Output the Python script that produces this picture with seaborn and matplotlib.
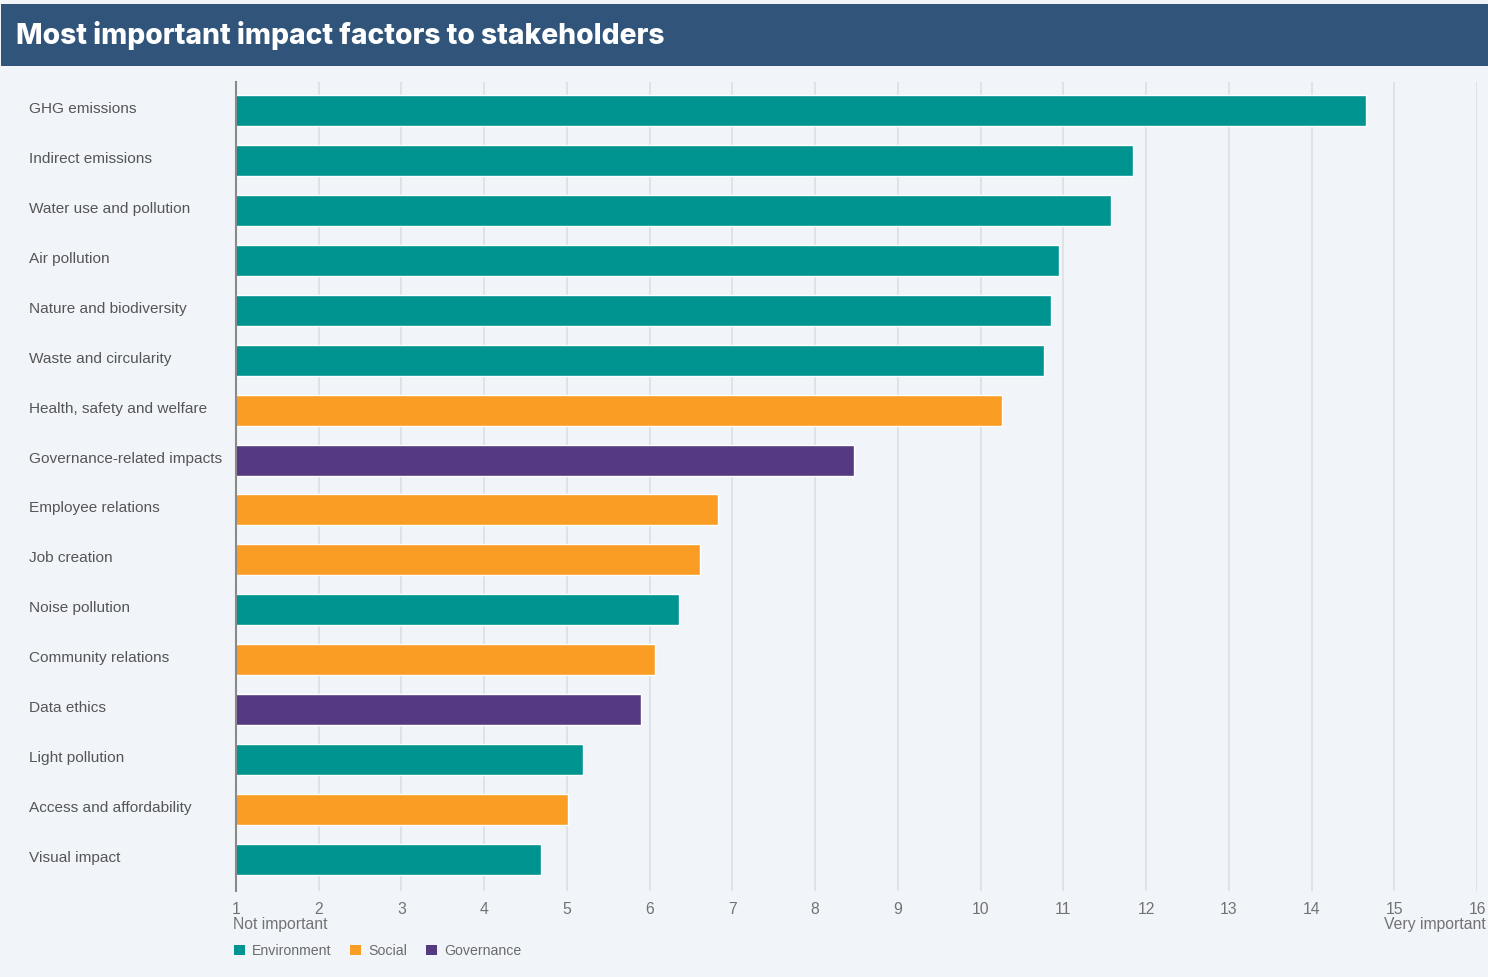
import matplotlib
matplotlib.use("Agg")
import matplotlib.pyplot as plt
from matplotlib.patches import Rectangle, Patch
from matplotlib.transforms import ScaledTranslation
import seaborn as sns
import pandas as pd

factors = ["GHG emissions", "Indirect emissions", "Water use and pollution", "Air pollution",
           "Nature and biodiversity", "Waste and circularity", "Health, safety and welfare",
           "Governance-related impacts", "Employee relations", "Job creation", "Noise pollution",
           "Community relations", "Data ethics", "Light pollution", "Access and affordability",
           "Visual impact"]
scores = [14.66, 11.84, 11.58, 10.95, 10.85, 10.77, 10.26, 8.47, 6.82, 6.61, 6.36, 6.06,
          5.89, 5.20, 5.01, 4.69]
groups = ["Environment", "Environment", "Environment", "Environment", "Environment",
          "Environment", "Social", "Governance", "Social", "Social", "Environment", "Social",
          "Governance", "Environment", "Social", "Environment"]
group_order = ["Environment", "Social", "Governance"]
group_colors = ["#009490", "#f99d25", "#553a81"]
xticks = list(range(1, 17))
title = "Most important impact factors to stakeholders"

BG = "#f1f5fa"
sns.set_theme(style="white")
plt.rcParams["font.family"] = ["Liberation Sans", "DejaVu Sans"]

df = pd.DataFrame({"factor": factors, "score": scores, "group": groups})

fig = plt.figure(figsize=(14.88, 9.77), dpi=100, facecolor=BG)
ax = fig.add_axes([236 / 1488, 1 - 891 / 977, (1477 - 236) / 1488, (891 - 82) / 977])
ax.set_facecolor(BG)

sns.barplot(data=df, x="score", y="factor", hue="group", hue_order=group_order,
            palette=dict(zip(group_order, group_colors)), dodge=False, width=0.62,
            order=factors, orient="h", saturation=1, ax=ax, legend=False, zorder=3)

ax.set_xlim(1, 16)
ax.set_ylim(15.64, -0.58)
ax.set_xticks(xticks)
ax.set_xticklabels([str(t) for t in xticks])
ax.grid(axis="x", color="#dadde2", linewidth=1.1, zorder=0)
ax.grid(axis="y", visible=False)
for s in ["top", "right", "bottom"]:
    ax.spines[s].set_visible(False)
ax.spines["left"].set_color("#8a8a8a")
ax.spines["left"].set_linewidth(1.5)
ax.spines["left"].set_zorder(4)
ax.set_xlabel("")
ax.set_ylabel("")
ax.tick_params(axis="x", length=0, pad=8, labelsize=11.3, labelcolor="#727272")
ax.tick_params(axis="y", length=0, pad=149, labelsize=11.1, labelcolor="#555555")
up = ScaledTranslation(0, 3 / 100, fig.dpi_scale_trans)
for lab in ax.get_yticklabels():
    lab.set_horizontalalignment("left")
    lab.set_transform(lab.get_transform() + up)

fig.text(233 / 1488, 1 - 924 / 977, "Not important", ha="left", va="center",
         fontsize=11.3, color="#727272")
fig.text(1486 / 1488, 1 - 924 / 977, "Very important", ha="right", va="center",
         fontsize=11.3, color="#727272")

# title banner
fig.patches.append(Rectangle((1 / 1488, 1 - 66 / 977), 1, 62 / 977, transform=fig.transFigure,
                             facecolor="#31557a", edgecolor="none", zorder=0))
fig.text(16 / 1488, 1 - 35 / 977, title, ha="left", va="center", fontsize=20.3,
         fontweight="heavy", color="white", family=["Inter", "DejaVu Sans"])

handles = [Patch(facecolor=c, edgecolor="none", label=g) for g, c in zip(group_order, group_colors)]
leg = fig.legend(handles=handles, loc="center left", bbox_to_anchor=(228 / 1488, 1 - 951 / 977),
                 ncol=3, frameon=False, fontsize=10.2, handlelength=0.8, handleheight=0.8,
                 handletextpad=0.5, columnspacing=1.3, borderaxespad=0)
for t in leg.get_texts():
    t.set_color("#6b6b6b")

fig.savefig("out.png", dpi=100, facecolor=BG)
